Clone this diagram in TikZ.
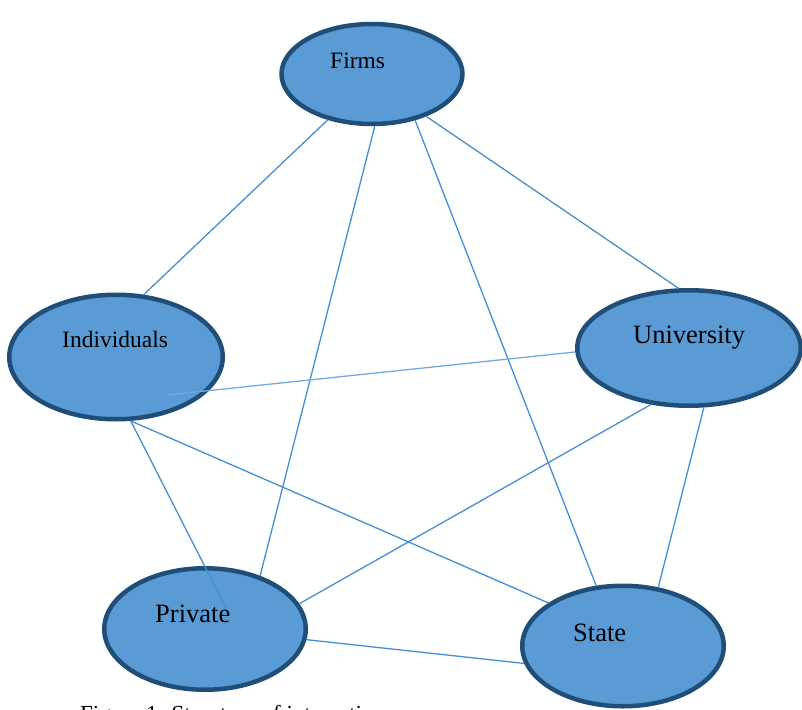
\documentclass[tikz,border=0pt]{standalone}
\usepackage{fontspec}
\setmainfont{Liberation Serif}
\usetikzlibrary{shapes.geometric}
\definecolor{nodefill}{RGB}{91,155,213}
\definecolor{nodeedge}{RGB}{31,78,121}
\definecolor{linkblue}{RGB}{70,142,214}
\definecolor{linklight}{RGB}{112,170,226}
\tikzset{
  actor/.style={ellipse, draw=nodeedge, fill=nodefill, line width=4.5pt, inner sep=0pt},
  link/.style={draw=linkblue, line width=1.3pt},
  lbl/.style={anchor=base west, inner sep=0pt, text=black},
  smalllbl/.style={lbl, font=\fontsize{23.5}{28}\selectfont},
  biglbl/.style={lbl, font=\fontsize{26.5}{31}\selectfont},
}
\begin{document}
\begin{tikzpicture}[x=1pt,y=-1pt]
\useasboundingbox (0,0) rectangle (802,709);
\clip (0,0) rectangle (802,709);

% actors
\node[actor, minimum width=181pt, minimum height=100pt]   (firms)   at (372,74)  {};
\node[actor, minimum width=213.5pt, minimum height=124.5pt] (indiv) at (116,357) {};
\node[actor, minimum width=223.5pt, minimum height=115.5pt] (univ)  at (689,348) {};
\node[actor, minimum width=201.5pt, minimum height=121.5pt] (private) at (205,629) {};
\node[actor, minimum width=201.5pt, minimum height=120.5pt] (state) at (623,646) {};

% inner ends of the two links that run over the ellipses
\coordinate (indIn) at (167,395);
\coordinate (privIn) at (227,610);

% interactions
\draw[link] (firms.226) -- (indiv.66);
\draw[link] (firms.273) -- (private.44);
\draw[link] (firms.313) -- (state.114);
\draw[link] (firms.322) -- (univ.100);
\draw[link, draw=linklight] (indIn) -- (univ.182);
\draw[link] (indiv.283) -- (privIn);
\draw[link] (indiv.283) -- (state.150);
\draw[link] (univ.236) -- (private.15);
\draw[link] (univ.284) -- (state.59);
\draw[link] (private.354) -- (state.190);

% labels
\node[smalllbl] (firmsT)   at (330,68)  {Firms};
\node[smalllbl] (indivT)   at (62,347)  {Individuals};
\node[biglbl]   (univT)    at (633,343) {University};
\node[biglbl]   (privateT) at (155,622) {Private};
\node[biglbl]   (stateT)   at (573,641) {State};

% caption
\node[lbl, font=\fontsize{23}{28}\selectfont] (caption) at (80,721) {Figure 1: Structure of interactions};
\end{tikzpicture}
\end{document}
